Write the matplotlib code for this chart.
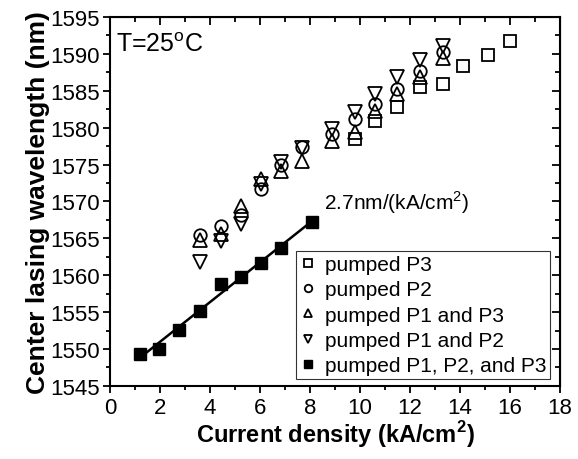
import numpy as np
import matplotlib
matplotlib.use("Agg")
import matplotlib.pyplot as plt
from matplotlib.ticker import MultipleLocator

plt.rcParams['font.family'] = ['Liberation Sans', 'DejaVu Sans']
plt.rcParams['mathtext.fontset'] = 'custom'
plt.rcParams['mathtext.rm'] = 'Liberation Sans'
plt.rcParams['mathtext.bf'] = 'Liberation Sans:bold'

# current density (kA/cm^2)
x_p3 = [9.8, 10.6, 11.5, 12.4, 13.3, 14.1, 15.1, 16.0]
y_p3 = [1578.5, 1580.9, 1582.8, 1585.5, 1585.9, 1588.4, 1589.9, 1591.7]

x_multi = [3.6, 4.43, 5.23, 6.03, 6.84, 7.67, 8.9, 9.8, 10.6, 11.5, 12.4, 13.3]
y_p2 = [1565.4, 1566.7, 1568.2, 1571.7, 1575.0, 1577.4, 1579.1, 1581.2, 1583.2, 1585.2, 1587.7, 1590.2]
y_p1p3 = [1564.8, 1565.6, 1569.4, 1573.0, 1574.1, 1575.5, 1578.2, 1579.4, 1582.3, 1584.6, 1586.8, 1589.5]
y_p1p2 = [1561.8, 1564.7, 1567.0, 1572.4, 1575.3, 1577.3, 1579.8, 1582.1, 1584.6, 1586.8, 1589.1, 1591.1]

x_all = [1.2, 1.97, 2.77, 3.6, 4.43, 5.23, 6.03, 6.84, 8.07]
y_all = [1549.3, 1550.0, 1552.6, 1555.2, 1558.8, 1559.8, 1561.6, 1563.7, 1567.2]

fig = plt.figure(figsize=(5.78, 4.60), dpi=100)
ax = fig.add_axes([0.19, 0.159, 0.779, 0.802])

ms = 9
mew = 1.3
ax.plot(x_p3, y_p3, 's', ms=ms, mfc='white', mec='black', mew=mew, ls='none', label='pumped P3')
ax.plot(x_multi, y_p2, 'o', ms=ms, mfc='none', mec='black', mew=mew, ls='none', label='pumped P2')
ax.plot(x_multi, y_p1p3, '^', ms=ms + 1, mfc='none', mec='black', mew=mew, ls='none', label='pumped P1 and P3')
ax.plot(x_multi, y_p1p2, 'v', ms=ms + 1, mfc='none', mec='black', mew=mew, ls='none', label='pumped P1 and P2')
ax.plot(x_all, y_all, 's', ms=ms, color='black', ls='none', label='pumped P1, P2, and P3')

# linear fit through the filled points
k, b = np.polyfit(x_all, y_all, 1)
xf = np.array([x_all[0], x_all[-1]])
ax.plot(xf, k * xf + b, color='black', lw=1.8)

ax.text(8.55, 1569.0, '2.7nm/(kA/cm$^2$)', fontsize=15)
ax.text(0.25, 1591.3, 'T=25$^\\mathrm{o}$C', fontsize=18, va='center')

ax.set_xlim(0, 18)
ax.set_ylim(1545, 1595)
ax.xaxis.set_major_locator(MultipleLocator(2))
ax.xaxis.set_minor_locator(MultipleLocator(1))
ax.yaxis.set_major_locator(MultipleLocator(5))
ax.yaxis.set_minor_locator(MultipleLocator(2.5))
ax.tick_params(which='both', direction='out', labelsize=16, width=1.3)
ax.tick_params(which='major', length=5)
ax.tick_params(which='minor', length=3)
ax.tick_params(axis='x', pad=3)
ax.tick_params(axis='y', pad=2)
for s in ax.spines.values():
    s.set_linewidth(1.5)

# mirror axes with inward ticks (top and right)
top = ax.secondary_xaxis('top')
top.xaxis.set_major_locator(MultipleLocator(2))
top.xaxis.set_minor_locator(MultipleLocator(1))
top.tick_params(which='both', direction='in', labeltop=False, width=1.3)
top.tick_params(which='major', length=6)
top.tick_params(which='minor', length=3.5)
right = ax.secondary_yaxis('right')
right.yaxis.set_major_locator(MultipleLocator(5))
right.yaxis.set_minor_locator(MultipleLocator(2.5))
right.tick_params(which='both', direction='in', labelright=False, width=1.3)
right.tick_params(which='major', length=6)
right.tick_params(which='minor', length=3.5)

ax.set_xlabel('Current density (kA/cm$^\\mathbf{2}$)', fontsize=17, fontweight='bold', labelpad=0)
ax.set_ylabel('Center lasing wavelength (nm)', fontsize=19, fontweight='bold', labelpad=0)

leg = ax.legend(loc='lower right', bbox_to_anchor=(0.978, 0.018), fontsize=15, markerscale=0.6,
                frameon=True, fancybox=False, edgecolor='black', handlelength=0.7,
                handletextpad=0.45, labelspacing=0.3, borderpad=0.2, borderaxespad=0)
leg.get_frame().set_linewidth(0.8)

fig.savefig('out.png', dpi=100)
